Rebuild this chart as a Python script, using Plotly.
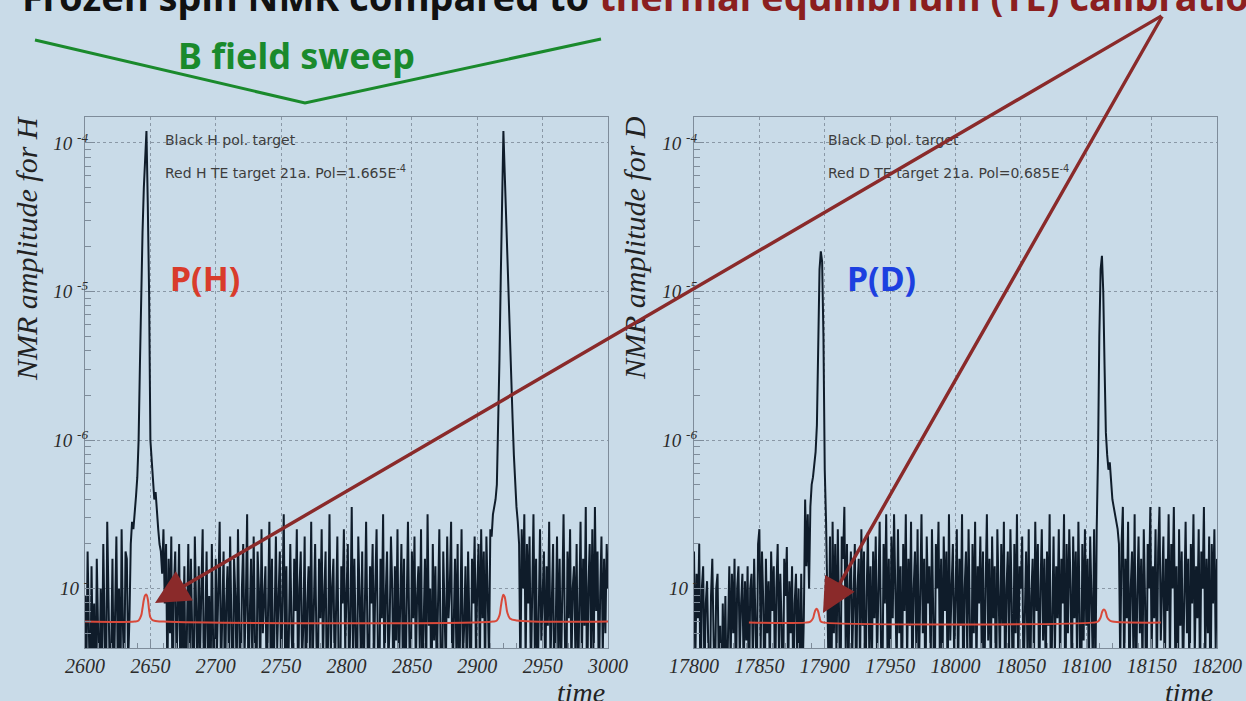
import numpy as np
import plotly.graph_objects as go

# ---------------------------------------------------------------------------
# Frozen-spin NMR sweeps (black) and thermal-equilibrium calibration (red)
# ---------------------------------------------------------------------------

# Proton sweep: NMR amplitude, stored as log10(amplitude), one sample per time unit from t = 2600
h_start = 2600
h_black_log10 = [
    -7.05, -7.6, -6.75, -7.3, -7.8, -6.85, -7.5, -7.1, -7.9, -6.8, -7.4, -7.75, -7.0, -7.55, -6.7, -7.35, -7.85, -6.55, -7.2, -7.6,
    -7.45, -6.8, -7.7, -7.1, -6.65, -7.5, -7.0, -7.8, -6.6, -7.25, -7.6, -6.75, -6.8, -7.5, -7.2, -6.7, -6.55, -6.6, -6.45, -6.38,
    -6.25, -6.0, -5.5, -5.0, -4.6, -4.3, -4.05, -3.92, -4.4, -5.0, -6.0, -6.15, -6.25, -6.4, -6.35, -6.5, -6.6, -6.7, -6.75, -6.9,
    -6.6, -7.1, -6.7, -7.6, -6.8, -7.3, -6.65, -7.8, -7.0, -6.75, -7.5, -7.15, -6.7, -7.7, -7.0, -7.4, -6.85, -7.85, -7.2, -6.7,
    -7.55, -6.8, -7.3, -7.9, -6.65, -7.1, -7.6, -6.85, -7.45, -7.0, -6.6, -7.8, -7.2, -6.75, -7.5, -7.05, -7.7, -6.7, -7.35, -7.9,
    -6.8, -7.4, -7.0, -6.55, -7.6, -7.2, -6.75, -7.75, -7.1, -6.85, -7.5, -6.65, -7.3, -7.85, -6.8, -7.05, -7.6, -6.6, -7.25, -7.8,
    -7.0, -6.7, -7.45, -7.1, -6.5, -7.7, -7.2, -6.8, -7.55, -6.65, -7.35, -7.9, -6.75, -7.0, -7.6, -6.6, -7.3, -7.05, -6.85, -7.75,
    -7.2, -6.55, -7.5, -6.8, -7.8, -7.1, -6.65, -7.4, -7.0, -6.75, -7.65, -7.2, -6.5, -7.45, -6.85, -7.85, -7.05, -6.7, -7.3, -7.55,
    -6.8, -7.15, -6.6, -7.7, -7.0, -6.75, -7.5, -7.25, -6.65, -7.9, -7.1, -6.85, -7.4, -6.55, -7.6, -7.0, -6.7, -7.35, -7.75, -6.8,
    -7.2, -6.6, -7.5, -7.05, -6.75, -7.8, -7.3, -6.5, -7.45, -7.0, -6.8, -7.65, -7.15, -6.65, -7.55, -7.9, -6.85, -7.1, -6.6, -7.4,
    -7.05, -6.7, -7.6, -7.2, -6.45, -7.5, -6.8, -7.35, -7.8, -6.65, -7.0, -7.45, -6.75, -7.7, -7.15, -6.55, -7.3, -7.9, -6.85, -7.1,
    -6.7, -7.55, -7.0, -6.6, -7.4, -7.85, -6.8, -7.2, -6.5, -7.65, -7.05, -6.75, -7.5, -7.25, -6.65, -7.0, -7.8, -6.85, -7.35, -6.6,
    -7.6, -7.1, -6.7, -7.45, -6.8, -7.75, -7.0, -6.55, -7.3, -7.9, -6.75, -7.2, -6.65, -7.55, -7.05, -6.85, -7.4, -6.6, -7.7, -7.15,
    -6.8, -7.5, -6.5, -7.25, -7.0, -7.8, -6.7, -7.35, -6.85, -7.6, -7.1, -6.6, -7.45, -7.9, -6.75, -7.05, -7.55, -6.65, -7.2, -7.0,
    -6.55, -7.7, -7.15, -6.8, -7.4, -6.7, -7.85, -7.0, -6.6, -7.5, -7.25, -6.85, -7.6, -6.75, -7.3, -7.75, -6.8, -7.1, -6.65, -7.45,
    -7.0, -6.7, -7.55, -6.6, -7.2, -6.75, -7.6, -6.65, -7.05, -7.5, -6.6, -6.65, -6.5, -6.45, -6.4, -6.3, -5.95, -5.45, -4.9, -4.3,
    -3.92, -4.2, -4.5, -4.75, -5.0, -5.3, -5.6, -5.85, -6.1, -6.3, -6.45, -6.55, -6.7, -7.6, -6.6, -7.0, -6.5, -7.5, -6.7, -7.1,
    -6.65, -7.6, -7.0, -6.5, -7.4, -6.8, -7.8, -7.15, -6.6, -7.35, -7.0, -6.75, -7.7, -6.85, -7.25, -6.55, -7.5, -7.05, -6.7, -7.9,
    -7.1, -6.65, -7.45, -6.8, -7.6, -7.0, -6.5, -7.3, -7.85, -6.75, -7.2, -6.6, -7.55, -7.0, -6.85, -7.4, -6.7, -7.75, -7.1, -6.55,
    -7.5, -6.8, -7.25, -6.45, -7.8, -7.0, -6.7, -7.4, -6.6, -7.6, -6.45, -7.15, -6.75, -7.7, -7.05, -6.65, -7.45, -6.8, -7.3, -6.7, -7.0,
]

# Proton TE calibration signal (amplitude in units of 1e-8)
h_te_time = [2600, 2638, 2641, 2643, 2644, 2645, 2646, 2647, 2648, 2649, 2650, 2652, 2660,
             2912, 2915, 2917, 2918, 2919, 2920, 2921, 2922, 2923, 2925, 2930, 3000]
h_te_amp = [6.0, 6.0, 6.1, 6.6, 7.4, 8.4, 9.0, 9.1, 8.5, 7.2, 6.4, 6.1, 6.0,
            6.0, 6.1, 6.6, 7.5, 8.5, 9.1, 8.8, 7.8, 6.9, 6.3, 6.1, 6.0]

# Deuteron sweep: log10(amplitude), one sample per time unit from t = 17800
d_start = 17800
d_black_log10 = [
    -6.75, -7.5, -6.9, -7.2, -6.7, -7.8, -7.0, -6.85, -7.6, -7.1, -6.95, -7.45, -7.9, -7.05, -6.8, -7.35, -7.7, -7.0, -6.9, -7.55,
    -7.25, -7.9, -7.1, -7.6, -7.05, -7.8, -7.15, -6.85, -7.5, -6.9, -7.3, -6.8, -7.7, -7.0, -6.85, -7.45, -7.1, -6.9, -7.6, -6.95,
    -7.35, -6.85, -7.8, -7.0, -6.9, -7.5, -6.8, -7.2, -7.65, -6.7, -6.6, -7.4, -6.75, -7.1, -7.85, -6.8, -7.3, -6.95, -7.55, -6.75,
    -7.15, -6.85, -7.7, -7.0, -6.7, -7.45, -6.9, -7.25, -7.9, -6.8, -7.05, -6.72, -7.6, -6.95, -7.3, -6.85, -7.75, -7.1, -6.9, -7.5,
    -7.0, -7.8, -6.9, -7.6, -7.2, -6.4, -6.85, -6.5, -7.0, -6.45, -6.3, -6.25, -6.15, -6.08, -5.9, -5.3, -4.85, -4.73, -4.8, -5.3,
    -6.2, -6.55, -6.95, -7.6, -6.65, -7.9, -6.55, -7.3, -6.7, -7.5, -6.6, -7.1, -7.8, -6.65, -6.8, -6.45, -7.4, -6.7, -7.65, -7.0,
    -6.75, -7.45, -7.1, -6.7, -7.7, -7.0, -6.8, -7.55, -6.6, -7.25, -6.75, -7.9, -7.05, -6.62, -7.4, -6.85, -7.6, -6.75, -7.2, -6.65,
    -7.5, -7.0, -6.55, -7.35, -7.8, -6.7, -7.1, -6.5, -7.45, -6.8, -7.7, -6.65, -7.2, -6.5, -7.0, -7.55, -6.6, -7.3, -6.85, -7.85,
    -6.7, -7.15, -6.5, -7.5, -6.8, -7.25, -6.55, -7.7, -7.0, -6.75, -7.4, -6.6, -7.6, -7.05, -6.5, -7.3, -6.8, -7.8, -6.65, -7.1,
    -6.85, -7.55, -6.6, -7.2, -7.85, -6.7, -7.0, -6.55, -7.45, -6.8, -7.6, -6.65, -7.15, -6.75, -7.7, -6.5, -7.35, -7.0, -6.7, -7.5,
    -7.05, -6.6, -7.6, -6.8, -7.25, -6.5, -7.8, -7.0, -6.75, -7.45, -6.6, -7.15, -7.9, -6.7, -7.3, -6.55, -7.55, -6.85, -7.1, -6.65,
    -7.4, -6.75, -7.7, -7.0, -6.5, -7.35, -6.8, -7.6, -6.65, -7.2, -6.85, -7.85, -6.6, -7.05, -7.5, -6.7, -7.25, -6.55, -7.75, -7.0,
    -6.75, -7.45, -6.6, -7.1, -7.9, -6.7, -7.3, -6.5, -7.55, -6.85, -7.0, -6.65, -7.65, -7.2, -6.75, -7.4, -6.6, -7.8, -7.05, -6.8,
    -7.5, -6.55, -7.15, -6.7, -7.7, -7.0, -6.6, -7.35, -6.8, -7.6, -6.75, -7.25, -6.5, -7.8, -7.05, -6.65, -7.45, -6.85, -7.2, -6.6,
    -7.55, -6.8, -7.1, -6.5, -7.85, -6.7, -7.3, -6.6, -7.0, -7.65, -6.65, -7.2, -6.75, -7.5, -6.55, -7.1, -7.9, -6.7, -7.35, -6.6,
    -7.25, -6.8, -7.6, -6.65, -7.0, -7.5, -6.6, -7.6, -6.6, -6.1, -5.3, -4.85, -4.76, -5.0, -5.5, -5.95, -6.1, -6.2, -6.15, -6.3,
    -6.4, -6.45, -6.5, -6.55, -6.6, -6.7, -7.5, -6.7, -6.45, -7.6, -6.8, -7.2, -6.55, -7.7, -7.0, -6.75, -7.4, -6.5, -7.8, -7.05,
    -6.65, -7.3, -6.8, -7.55, -6.6, -7.1, -7.85, -6.7, -7.0, -6.45, -7.45, -6.85, -7.2, -6.6, -7.6, -6.75, -6.45, -7.35, -7.0, -6.65,
    -7.7, -6.8, -7.15, -6.5, -7.5, -6.7, -7.0, -6.45, -7.4, -6.85, -7.8, -6.6, -7.25, -6.75, -7.6, -7.05, -6.55, -7.3, -6.8, -7.75,
    -6.7, -7.1, -6.5, -7.45, -6.85, -7.2, -6.6, -7.65, -6.75, -7.0, -6.45, -7.5, -6.8, -7.3, -6.65, -7.85, -6.7, -7.1, -6.6, -7.4, -6.8,
]

# Deuteron TE calibration signal (amplitude in units of 1e-8)
d_te_time = [17842, 17885, 17889, 17891, 17892, 17893, 17894, 17895, 17896, 17897, 17900,
             18105, 18109, 18111, 18112, 18113, 18114, 18115, 18116, 18118, 18120, 18157]
d_te_amp = [5.9, 5.9, 6.0, 6.3, 6.8, 7.2, 7.3, 7.0, 6.4, 6.0, 5.9,
            5.9, 6.0, 6.4, 6.9, 7.2, 7.2, 6.9, 6.4, 6.1, 6.0, 5.9]

# Axis ticks
h_xticks = [2600, 2650, 2700, 2750, 2800, 2850, 2900, 2950, 3000]
d_xticks = [17800, 17850, 17900, 17950, 18000, 18050, 18100, 18150, 18200]
y_decades = [1e-7, 1e-6, 1e-5, 1e-4]
y_ticktext = ["10 <sup>-</sup>", "10 <sup>-6</sup>", "10 <sup>-5</sup>", "10 <sup>-4</sup>"]
y_minor_mult = [2, 3, 4, 5, 6, 7, 8, 9]

# ---------------------------------------------------------------------------
W, H = 1246, 701
BG = "#c9dbe8"
BLACK = "#0f1c2a"
TE_RED = "#d8493a"
ARROW_RED = "#8a2a2a"
AXIS = "#7e8c9a"
GRID = "#8a98a6"


def px_x(x):
    return x / W


def px_y(y):
    return (H - y) / H


h_time = np.arange(h_start, h_start + len(h_black_log10))
d_time = np.arange(d_start, d_start + len(d_black_log10))
h_black = 10.0 ** np.array(h_black_log10)
d_black = 10.0 ** np.array(d_black_log10)
h_te = np.array(h_te_amp) * 1e-8
d_te = np.array(d_te_amp) * 1e-8

fig = go.Figure()
fig.add_trace(go.Scatter(x=h_time, y=h_black, mode="lines",
                         line=dict(color=BLACK, width=2), xaxis="x", yaxis="y"))
fig.add_trace(go.Scatter(x=h_te_time, y=h_te, mode="lines", line_shape="spline",
                         line=dict(color=TE_RED, width=2), xaxis="x", yaxis="y"))
fig.add_trace(go.Scatter(x=d_time, y=d_black, mode="lines",
                         line=dict(color=BLACK, width=2), xaxis="x2", yaxis="y2"))
fig.add_trace(go.Scatter(x=d_te_time, y=d_te, mode="lines", line_shape="spline",
                         line=dict(color=TE_RED, width=2), xaxis="x2", yaxis="y2"))

tick_font = dict(family="Liberation Serif", size=20, color="#2b2b2b", style="italic")


def x_axis(ticks, domain, anchor):
    return dict(domain=domain, anchor=anchor, range=[ticks[0], ticks[-1]],
                tickmode="array", tickvals=ticks, ticktext=[str(t) for t in ticks],
                automargin=False,
                showline=True, linecolor=AXIS, linewidth=1.2, mirror=True,
                ticks="inside", ticklen=9, tickcolor=AXIS, tickwidth=1,
                showgrid=True, gridcolor=GRID, griddash="dot", gridwidth=1,
                zeroline=False, tickfont=tick_font,
                minor=dict(tickmode="linear", tick0=ticks[0], dtick=10, ticks="inside",
                           ticklen=5, tickcolor=AXIS, showgrid=False))


y_minor = [m * d for d in [1e-8] + y_decades for m in y_minor_mult]


def y_axis(anchor):
    return dict(type="log", domain=[px_y(648), px_y(117)], anchor=anchor,
                range=[-7.40, -3.825], automargin=False,
                tickmode="array", tickvals=y_decades, ticktext=y_ticktext,
                showline=True, linecolor=AXIS, linewidth=1.2, mirror=True,
                ticks="inside", ticklen=10, tickcolor=AXIS, tickwidth=1,
                showgrid=True, gridcolor=GRID, griddash="dot", gridwidth=1,
                zeroline=False, ticklabelstandoff=-8,
                tickfont=dict(family="Liberation Serif", size=19, color="#2b2b2b", style="italic"),
                minor=dict(tickmode="array", tickvals=y_minor, ticks="inside",
                           ticklen=6, tickcolor=AXIS, showgrid=False))


def label(x, y, text, font, xanchor="center", yanchor="middle", **kw):
    return dict(x=px_x(x), y=px_y(y), xref="paper", yref="paper",
                xanchor=xanchor, yanchor=yanchor, text=text, showarrow=False,
                font=font, **kw)


legend_font = dict(family="DejaVu Sans", size=14, color="#3d3d3d")
serif_title = dict(family="Liberation Serif", size=30, color="#222222", style="italic")
time_font = dict(family="Liberation Serif", size=28, color="#222222", style="italic")

annotations = [
    # slide heading, mostly above the page edge
    label(20, -4, "Frozen spin NMR compared to "
                  "<span style='color:#8b1f1f'>thermal equilibrium (TE) calibration</span>",
          dict(family="Noto Sans", size=38, color="#111111", weight="bold"), xanchor="left"),
    label(296, 55, "B field sweep", dict(family="Noto Sans", size=36, color="#1a8a2c", weight="bold")),
    label(205, 278, "P(H)", dict(family="Noto Sans", size=34, color="#d93b2b", weight="bold")),
    label(882, 278, "P(D)", dict(family="Noto Sans", size=34, color="#1c40e0", weight="bold")),
    label(163, 140, "Black H pol. target", legend_font, xanchor="left"),
    label(163, 172, "Red H TE target 21a. Pol=1.665E<sup>-4</sup>", legend_font, xanchor="left"),
    label(826, 140, "Black D pol. target", legend_font, xanchor="left"),
    label(826, 172, "Red D TE target 21a. Pol=0.685E<sup>-4</sup>", legend_font, xanchor="left"),
    # axis titles
    label(26, 248, "NMR amplitude for H", serif_title, textangle=-90),
    label(634, 248, "NMR amplitude for D", serif_title, textangle=-90),
    label(607, 692, "time", time_font, xanchor="right"),
    label(1215, 692, "time", time_font, xanchor="right"),
    # arrows from the heading to the TE peaks
    dict(x=px_x(155), y=px_y(603), xref="paper", yref="paper", text="",
         showarrow=True, axref="pixel", ayref="pixel", ax=1163 - 155, ay=15 - 603,
         arrowhead=2, arrowsize=2.0, arrowwidth=3.4, arrowcolor=ARROW_RED),
    dict(x=px_x(823), y=px_y(613), xref="paper", yref="paper", text="",
         showarrow=True, axref="pixel", ayref="pixel", ax=1163 - 823, ay=15 - 613,
         arrowhead=2, arrowsize=2.0, arrowwidth=3.4, arrowcolor=ARROW_RED),
]

shapes = [
    dict(type="path", xref="paper", yref="paper",
         path=f"M {px_x(35)} {px_y(40)} L {px_x(305)} {px_y(103)} L {px_x(601)} {px_y(39)}",
         line=dict(color="#1a8a2c", width=3)),
]

fig.update_layout(
    width=W, height=H, margin=dict(l=0, r=0, t=0, b=0, autoexpand=False),
    paper_bgcolor=BG, plot_bgcolor=BG, showlegend=False,
    xaxis=x_axis(h_xticks, [px_x(85), px_x(608)], "y"),
    yaxis=y_axis("x"),
    xaxis2=x_axis(d_xticks, [px_x(694), px_x(1217)], "y2"),
    yaxis2=y_axis("x2"),
    annotations=annotations, shapes=shapes,
)

fig.write_html("out.html")
